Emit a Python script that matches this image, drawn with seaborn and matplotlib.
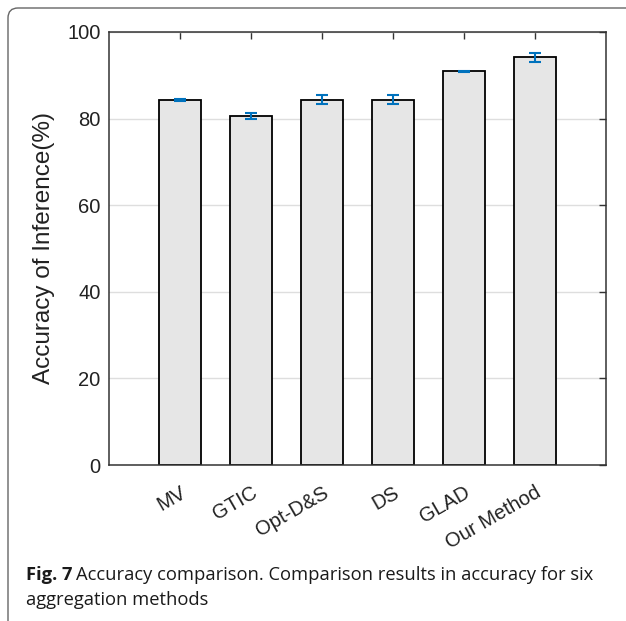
import numpy as np
import pandas as pd
import matplotlib
matplotlib.use('Agg')
import matplotlib.pyplot as plt
from matplotlib.patches import FancyBboxPatch
import seaborn as sns

# data
methods = ['MV', 'GTIC', 'Opt-D&S', 'DS', 'GLAD', 'Our Method']
accuracy = [84.3, 80.7, 84.4, 84.4, 90.9, 94.2]
err = [0.2, 0.7, 1.05, 1.05, 0.15, 1.05]
yticks = [0, 20, 40, 60, 80, 100]

df = pd.DataFrame({'method': methods, 'acc': accuracy})

sns.set_style('white')
plt.rcParams['font.family'] = ['Liberation Sans', 'DejaVu Sans']

fig = plt.figure(figsize=(6.26, 6.21), dpi=100)
ax = fig.add_axes([0.174, 0.2512, 0.794, 0.6973])

sns.barplot(data=df, x='method', y='acc', color='#e6e6e6', width=0.6,
            edgecolor='black', linewidth=1.3, errorbar=None, saturation=1, ax=ax)
ax.errorbar(np.arange(len(methods)), accuracy, yerr=err, fmt='none',
            ecolor='#0072BD', elinewidth=1.5, capsize=4.5, capthick=1.5, zorder=5)

ax.set_xlim(-1, 6)
ax.set_ylim(0, 100)
ax.set_yticks(yticks)
ax.yaxis.grid(True, color='#dedede', linewidth=1)
ax.set_axisbelow(True)
ax.tick_params(direction='in', length=5, width=1, color='#333333',
               top=True, right=True, labelsize=14.5, labelcolor='#222222', pad=6)
ax.tick_params(axis='x', labelsize=14.5, pad=13)
plt.setp(ax.get_xticklabels(), rotation=30, ha='right', rotation_mode='anchor')
ax.set_xlabel('')
ax.set_ylabel('Accuracy of Inference(%)', fontsize=17.5, color='#222222', labelpad=9)
for s in ax.spines.values():
    s.set_color('#333333')
    s.set_linewidth(1.1)

# page frame (top and left edges with rounded corner)
frame = FancyBboxPatch((0.08, -0.5), 7.0, 6.13 + 0.5,
                       boxstyle='round,pad=0,rounding_size=0.1',
                       transform=fig.dpi_scale_trans, fill=False,
                       edgecolor='#666666', linewidth=1.0)
fig.patches.append(frame)

# caption
cap_font = ['Open Sans', 'DejaVu Sans']
x0 = 26 / 626
t = fig.text(x0, 1 - 580 / 621, 'Fig. 7', fontsize=13.2, fontweight='bold',
             family=cap_font, va='baseline', color='#1a1a1a')
fig.canvas.draw()
bb = t.get_window_extent().transformed(fig.transFigure.inverted())
fig.text(bb.x1 + 4 / 626, 1 - 580 / 621,
         'Accuracy comparison. Comparison results in accuracy for six',
         fontsize=13.2, family=cap_font, va='baseline', color='#1a1a1a')
fig.text(x0, 1 - 605 / 621, 'aggregation methods', fontsize=13.2,
         family=cap_font, va='baseline', color='#1a1a1a')

fig.savefig('out.png', dpi=100)
